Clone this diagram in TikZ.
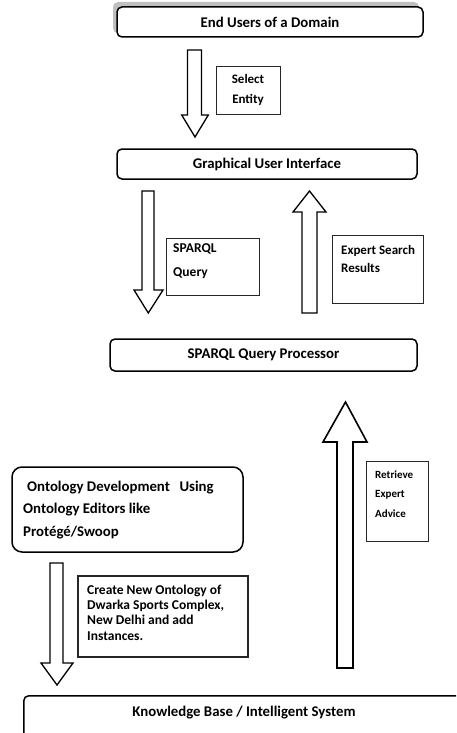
\documentclass[tikz,border=0pt]{standalone}
\usepackage{fontspec}
\setmainfont{Carlito}
\begin{document}
\begin{tikzpicture}[x=1pt,y=-1pt,
  bigbox/.style={draw=black,line width=1.5pt,rounded corners=5pt,fill=white,inner sep=0pt},
  lblbox/.style={draw=black!85,line width=1pt,fill=white,inner sep=0pt},
  bigtxt/.style={font=\fontsize{14.8}{16}\selectfont\bfseries,inner sep=0pt},
  blk/.style={draw=black,line width=1.3pt,fill=white,line join=miter}]
\useasboundingbox (0,0) rectangle (456,733);
\begin{scope}
\clip (0,0) rectangle (456,733);
% End users with gray shadow
\fill[black!25,rounded corners=5pt] (113,2) rectangle (419,33);
\node[bigbox,minimum width=306pt,minimum height=30pt] (eu) at (270,22) {};
\node[bigtxt] (eut) at (eu.center) {End Users of a Domain};
% Select entity
\node[lblbox,minimum width=64pt,minimum height=48pt] (se) at (248,91) {};
\node[font=\fontsize{13}{20}\selectfont\bfseries,align=center,inner sep=0pt] (set) at (248,90) {Select\\Entity};
% GUI
\node[bigbox,minimum width=300pt,minimum height=30pt] (gui) at (267,164) {};
\node[bigtxt] (guit) at (gui.center) {Graphical User Interface};
% SPARQL query label
\node[lblbox,minimum width=93pt,minimum height=57pt] (sq) at (212.5,266.5) {};
\node[font=\fontsize{13.5}{24}\selectfont\bfseries,align=left,inner sep=0pt,anchor=west] (sqt) at (173,261.5) {SPARQL\\Query};
% Expert search results
\node[lblbox,minimum width=91pt,minimum height=68pt] (es) at (377.5,269) {};
\node[font=\fontsize{13}{18}\selectfont\bfseries,align=left,inner sep=0pt,anchor=west] (est) at (341,259) {Expert Search\\Results};
% SPARQL Query Processor
\node[bigbox,minimum width=307pt,minimum height=32pt] (sqp) at (263.5,355) {};
\node[bigtxt] (sqpt) at (sqp.center) {SPARQL Query Processor};
% Ontology development
\node[bigbox,rounded corners=10pt,minimum width=231pt,minimum height=85pt] (od) at (127.5,509.5) {};
\node[font=\fontsize{14.8}{22.5}\selectfont\bfseries,align=left,inner sep=0pt,anchor=west] (odt) at (23,510) {\hspace{4pt}Ontology Development\hspace{0.65em}Using\\Ontology Editors like\\Protégé/Swoop};
% Retrieve expert advice
\node[lblbox,minimum width=62pt,minimum height=80pt] (re) at (397,501) {};
\node[font=\fontsize{11}{19.5}\selectfont\bfseries,align=left,inner sep=0pt,anchor=west] (ret) at (375,494) {Retrieve\\Expert\\Advice};
% Create new ontology
\node[lblbox,line width=1.2pt,minimum width=170pt,minimum height=81pt] (cn) at (163,616.5) {};
\node[font=\fontsize{13.5}{15.3}\selectfont\bfseries,align=left,inner sep=0pt,anchor=west] (cnt) at (87,612.5) {Create New Ontology of\\Dwarka Sports Complex,\\New Delhi and add\\Instances.};
% Knowledge base
\node[bigbox,minimum width=442pt,minimum height=66pt,anchor=north west] (kb) at (23,695) {};
\node[bigtxt] (kbt) at (244,713) {Knowledge Base / Intelligent System};
% block arrows
\draw[blk] (187.5,50) -- (201.5,50) -- (201.5,115) -- (208.3,115) -- (195,137) -- (181.7,115) -- (187.5,115) -- cycle;
\draw[blk] (142,191) -- (154,191) -- (154,290) -- (163,290) -- (148.3,313) -- (134,290) -- (142,290) -- cycle;
\draw[blk] (302,313) -- (317,313) -- (317,212) -- (326,212) -- (309.5,191) -- (293,212) -- (302,212) -- cycle;
\draw[blk,line width=1.6pt] (337,668) -- (353,668) -- (353,442) -- (367,442) -- (345.5,402) -- (323,442) -- (337,442) -- cycle;
\draw[blk] (50,563) -- (63,563) -- (63,663) -- (73,663) -- (57,685) -- (41,663) -- (50,663) -- cycle;
\end{scope}
\end{tikzpicture}
\end{document}
